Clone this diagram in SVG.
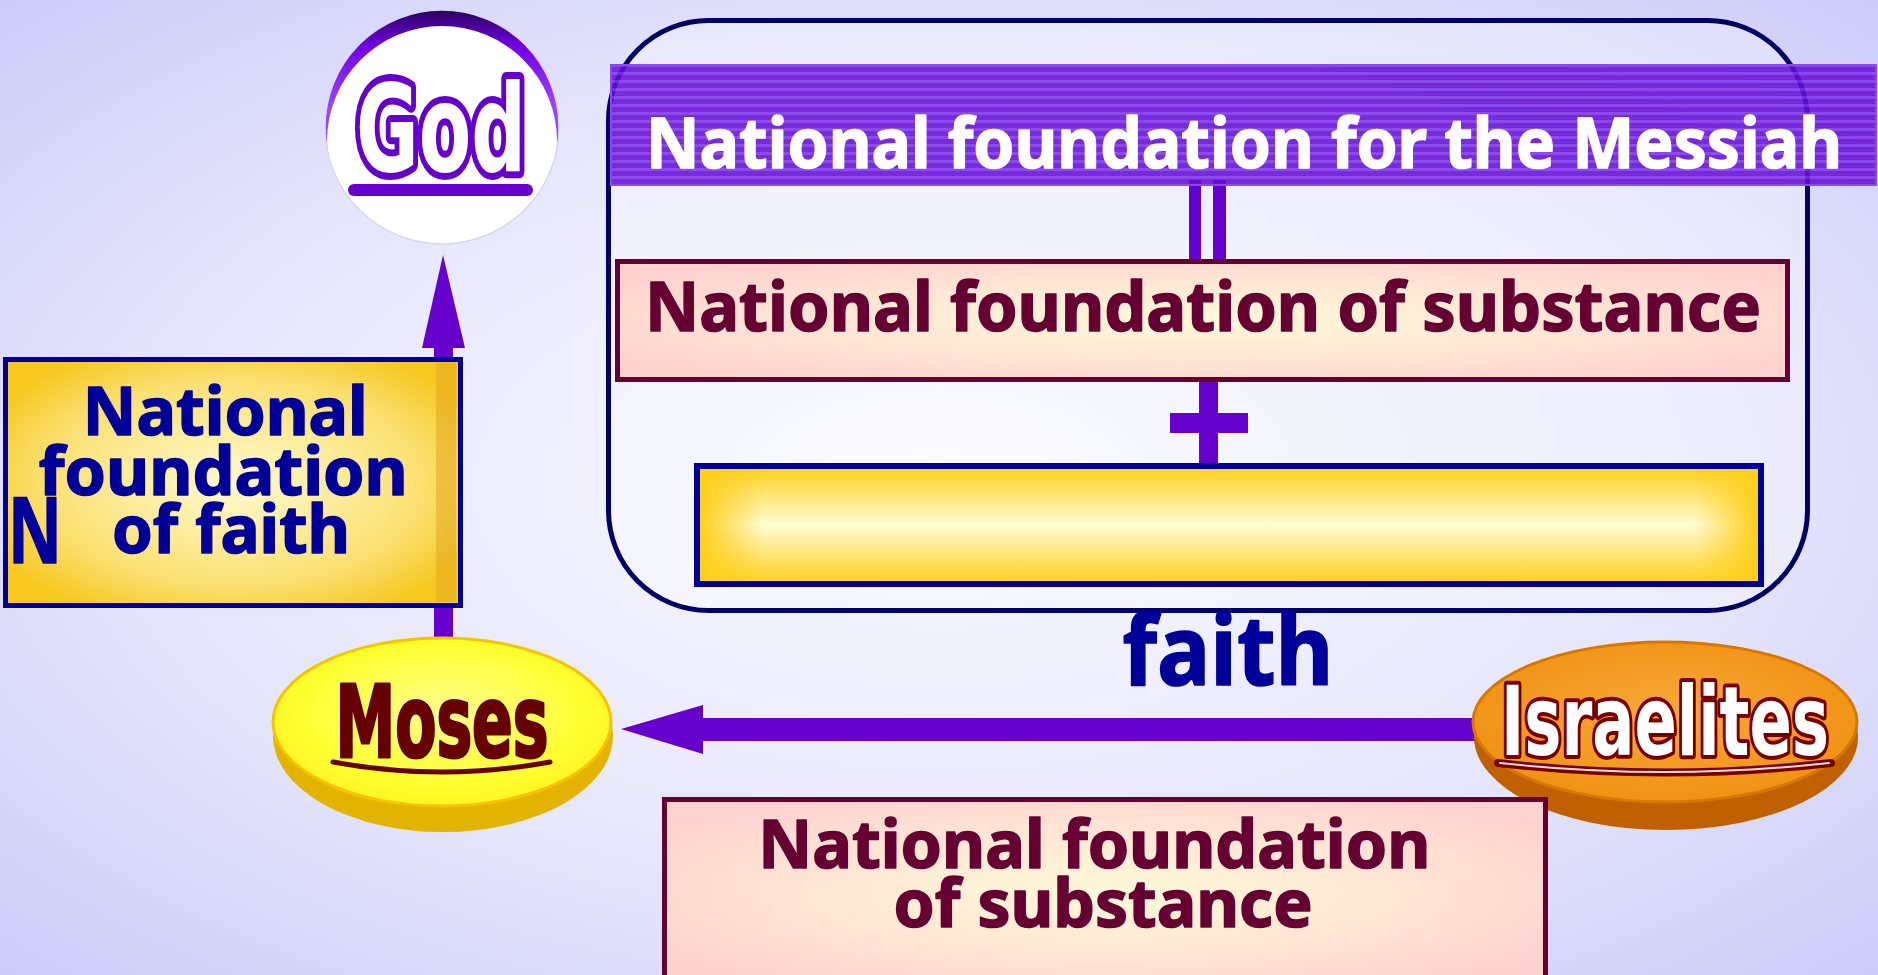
<svg xmlns="http://www.w3.org/2000/svg" width="1878" height="975" viewBox="0 0 1878 975">
<defs>
<style>
.sans{font-family:"Noto Sans","Open Sans","Liberation Sans",sans-serif;font-weight:700;stroke-width:1.6;stroke-linejoin:round}
.cond{font-family:"DejaVu Sans Condensed","DejaVu Sans","Liberation Sans",sans-serif;font-weight:700}
.conn{fill:#6600cc}
</style>
<radialGradient id="bg" cx="0.5" cy="0.5" r="0.75">
<stop offset="0" stop-color="#f9f9ff"/>
<stop offset="0.55" stop-color="#e6e6fc"/>
<stop offset="1" stop-color="#c8c8f8"/>
</radialGradient>
<radialGradient id="yel" cx="0.5" cy="0.5" r="0.6">
<stop offset="0" stop-color="#fffad0"/>
<stop offset="0.7" stop-color="#fbe070"/>
<stop offset="1" stop-color="#f6c820"/>
</radialGradient>
<linearGradient id="yelV" x1="0" y1="0" x2="0" y2="1">
<stop offset="0" stop-color="#ffcf1a"/>
<stop offset="0.5" stop-color="#fffcd4"/>
<stop offset="1" stop-color="#ffcf1a"/>
</linearGradient>
<linearGradient id="yelH" x1="0" y1="0" x2="1" y2="0">
<stop offset="0" stop-color="#ffcf1a" stop-opacity="1"/>
<stop offset="0.06" stop-color="#ffcf1a" stop-opacity="0"/>
<stop offset="0.94" stop-color="#ffcf1a" stop-opacity="0"/>
<stop offset="1" stop-color="#ffcf1a" stop-opacity="1"/>
</linearGradient>
<radialGradient id="pink" cx="0.5" cy="0.5" r="0.6">
<stop offset="0" stop-color="#fffad8"/>
<stop offset="0.6" stop-color="#ffe4d4"/>
<stop offset="1" stop-color="#ffd2d0"/>
</radialGradient>
<pattern id="stripes" width="8" height="8" patternUnits="userSpaceOnUse">
<rect width="8" height="8" fill="#6a0ed8"/>
<rect width="8" height="3" fill="#7d34ea"/>
</pattern>
<linearGradient id="godTop" x1="0" y1="0" x2="0" y2="1">
<stop offset="0" stop-color="#2a0060"/>
<stop offset="0.15" stop-color="#7000e0"/>
<stop offset="0.4" stop-color="#9a40ff"/>
</linearGradient>
<radialGradient id="mosesTop" cx="0.5" cy="0.45" r="0.6">
<stop offset="0" stop-color="#ffff90"/>
<stop offset="0.7" stop-color="#ffff30"/>
<stop offset="1" stop-color="#fff020"/>
</radialGradient>
<radialGradient id="isrTop" cx="0.5" cy="0.45" r="0.6">
<stop offset="0" stop-color="#f8a838"/>
<stop offset="1" stop-color="#f09010"/>
</radialGradient>
<clipPath id="godClip"><circle cx="442" cy="127" r="117"/></clipPath>
</defs>

<rect width="1878" height="975" fill="url(#bg)"/>

<g id="frame">
<rect x="608.5" y="20.5" width="1199" height="590" rx="100" ry="100" fill="#ffffff" fill-opacity="0.3" stroke="#000066" stroke-width="5"/>
</g>

<g id="connectors">
<rect class="conn" x="434" y="340" width="19" height="302"/>
<polygon class="conn" points="443,255 465,348 422,348"/>
<rect class="conn" x="700" y="718" width="775" height="23"/>
<polygon class="conn" points="621,729 703,705 703,754"/>
<rect class="conn" x="1189" y="180" width="12" height="82"/>
<rect class="conn" x="1213" y="180" width="13" height="82"/>
<rect class="conn" x="1199" y="382" width="19" height="83"/>
<rect class="conn" x="1170" y="413" width="78" height="20"/>
</g>

<g id="god">
<g clip-path="url(#godClip)">
<circle cx="442" cy="127" r="117" fill="url(#godTop)"/>
<ellipse cx="442" cy="141" rx="115" ry="115" fill="#ffffff"/>
</g>
<circle cx="442" cy="127" r="117" fill="none" stroke="#d8d8e8" stroke-width="1.5"/>
<text class="cond" x="441" y="171" font-size="122" text-anchor="middle" textLength="170" lengthAdjust="spacingAndGlyphs" fill="#ffffff" stroke="#6600cc" stroke-width="14" stroke-linejoin="round" paint-order="stroke">God</text>
<rect x="348" y="184" width="185" height="12" rx="6" fill="#6600cc"/>
</g>

<g id="banner">
<rect x="611" y="65" width="1265" height="120" fill="url(#stripes)" fill-opacity="0.88" stroke="#8a4ae8" stroke-width="2"/>
<text class="sans" x="1244" y="168" font-size="70" text-anchor="middle" textLength="1196" lengthAdjust="spacingAndGlyphs" fill="#ffffff" stroke="#ffffff">National foundation for the Messiah</text>
</g>

<g id="substance-top">
<rect x="617.5" y="261.5" width="1170" height="118" fill="url(#pink)" stroke="#660033" stroke-width="5"/>
<text class="sans" x="1203" y="331" font-size="69" text-anchor="middle" textLength="1116" lengthAdjust="spacingAndGlyphs" fill="#660033" stroke="#660033">National foundation of substance</text>
</g>

<g id="faith-bar">
<rect x="697" y="466" width="1064" height="118" fill="url(#yelV)" stroke="#000099" stroke-width="6"/>
<rect x="700" y="469" width="1058" height="112" fill="url(#yelH)"/>
</g>

<g id="faith-label">
<text class="sans" x="1228" y="685" font-size="96" text-anchor="middle" textLength="211" lengthAdjust="spacingAndGlyphs" fill="#000099" stroke="#000099">faith</text>
</g>

<g id="faith-box">
<rect x="5.5" y="359.5" width="455" height="246" fill="url(#yel)" stroke="#000099" stroke-width="5"/>
<rect x="436" y="363" width="20" height="239" fill="#e0a020" fill-opacity="0.45"/>
<text class="sans" font-size="67" text-anchor="middle" fill="#000099" stroke="#000099">
<tspan x="234" y="435" textLength="285" lengthAdjust="spacingAndGlyphs">National</tspan>
<tspan x="232" y="495" textLength="369" lengthAdjust="spacingAndGlyphs">foundation</tspan>
<tspan x="231" y="553" textLength="238" lengthAdjust="spacingAndGlyphs">of faith</tspan>
</text>
<text class="sans" x="8" y="563" font-size="91" textLength="54" lengthAdjust="spacingAndGlyphs" fill="#000099" stroke="#000099">N</text>
</g>

<g id="moses">
<ellipse cx="443" cy="736" rx="170" ry="96" fill="#e2b400"/>
<ellipse cx="442" cy="722" rx="169" ry="84" fill="url(#mosesTop)" stroke="#f8c400" stroke-width="3"/>
<text class="cond" x="442" y="757" font-size="100" text-anchor="middle" textLength="213" lengthAdjust="spacingAndGlyphs" fill="#660000" stroke="#660000" stroke-width="3" stroke-linejoin="round">Moses</text>
<path d="M333,762 Q442,782 550,762" fill="none" stroke="#660000" stroke-width="5" stroke-linecap="round"/>
</g>

<g id="israelites">
<ellipse cx="1666" cy="737" rx="192" ry="93" fill="#c06000"/>
<ellipse cx="1665" cy="722" rx="192" ry="80" fill="url(#isrTop)" stroke="#d87800" stroke-width="3"/>
<text class="cond" x="1665" y="755" font-size="96" text-anchor="middle" textLength="328" lengthAdjust="spacingAndGlyphs" fill="#ffffff" stroke="#770000" stroke-width="8" stroke-linejoin="round" paint-order="stroke">Israelites</text>
<path d="M1498,763 Q1665,782 1831,763" fill="none" stroke="#770000" stroke-width="8" stroke-linecap="round"/>
<path d="M1500,763 Q1665,781 1829,763" fill="none" stroke="#ffdddd" stroke-width="2" stroke-linecap="round"/>
</g>

<g id="substance-bottom">
<rect x="664.5" y="799.5" width="881" height="185" fill="url(#pink)" stroke="#660033" stroke-width="5"/>
<text class="sans" font-size="67" text-anchor="middle" fill="#660033" stroke="#660033">
<tspan x="1103" y="868" textLength="672" lengthAdjust="spacingAndGlyphs">National foundation</tspan>
<tspan x="1103" y="927" textLength="419" lengthAdjust="spacingAndGlyphs">of substance</tspan>
</text>
</g>
</svg>
